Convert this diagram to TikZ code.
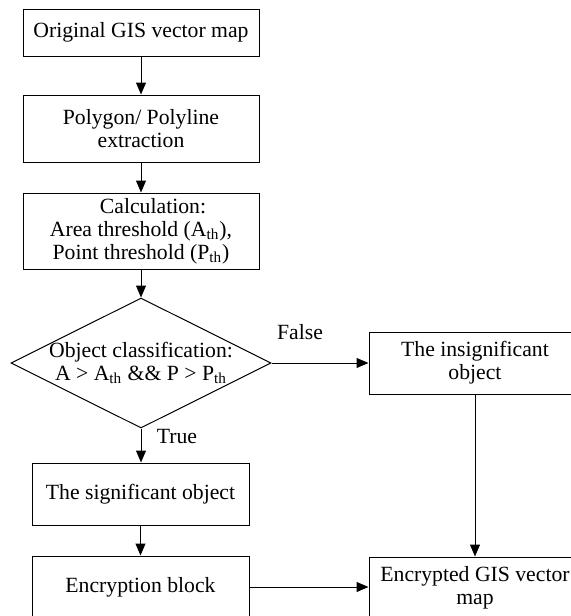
\documentclass[tikz,border=0pt]{standalone}
\usepackage{fontspec}
\setmainfont{Liberation Serif}
\usetikzlibrary{arrows.meta,shapes.geometric}

\begin{document}
\begin{tikzpicture}[x=0.5pt,y=-0.5pt,>={Triangle[length=6pt,width=5pt]},line width=0.5pt,
  font=\fontsize{10.85}{11.5}\selectfont,
  box/.style={draw,rectangle,align=center,inner sep=0pt}]
\useasboundingbox (0,0) rectangle (571,616);

% left column
\node(map)[box,minimum width=118pt,minimum height=23.5pt]at (141,32.5){Original GIS vector map};
\node(poly)[box,minimum width=118pt,minimum height=33.5pt]at (141,128.5){Polygon/ Polyline\\extraction};
\node(calc)[box,minimum width=118pt,minimum height=38pt]at (141,231){\hspace*{12pt}Calculation:\\Area threshold (A\textsubscript{th}),\\Point threshold (P\textsubscript{th})};
\node(cls)[draw,diamond,aspect=2,inner sep=-2pt,minimum width=130pt,minimum height=65pt,align=center]at (141,363){Object classification:\\A > A\textsubscript{th} \&\& P > P\textsubscript{th}};
\node(sig)[box,minimum width=108.5pt,minimum height=31pt]at (140.5,494){The significant object};
\node(enc)[box,minimum width=108.5pt,minimum height=31pt]at (140.5,587){Encryption block};

% right column
\node(insig)[box,minimum width=106pt,minimum height=31pt]at (475,363){The insignificant\\object};
\node(out)[box,minimum width=106pt,minimum height=31pt]at (475,588){Encrypted GIS vector\\map};

\draw[->](map)--(poly);
\draw[->](poly)--(calc);
\draw[->](calc)--(cls);
\draw[->](cls.south)--(sig.north-|cls.south);
\draw[->](sig)--(enc);
\draw[->](cls.east)--(insig.west);
\draw[->](insig)--(out);
\draw[->](enc.east)--(enc.east-|out.west);

\node(no)at (300,332){False};
\node(yes)at (177,436){True};
\end{tikzpicture}
\end{document}
